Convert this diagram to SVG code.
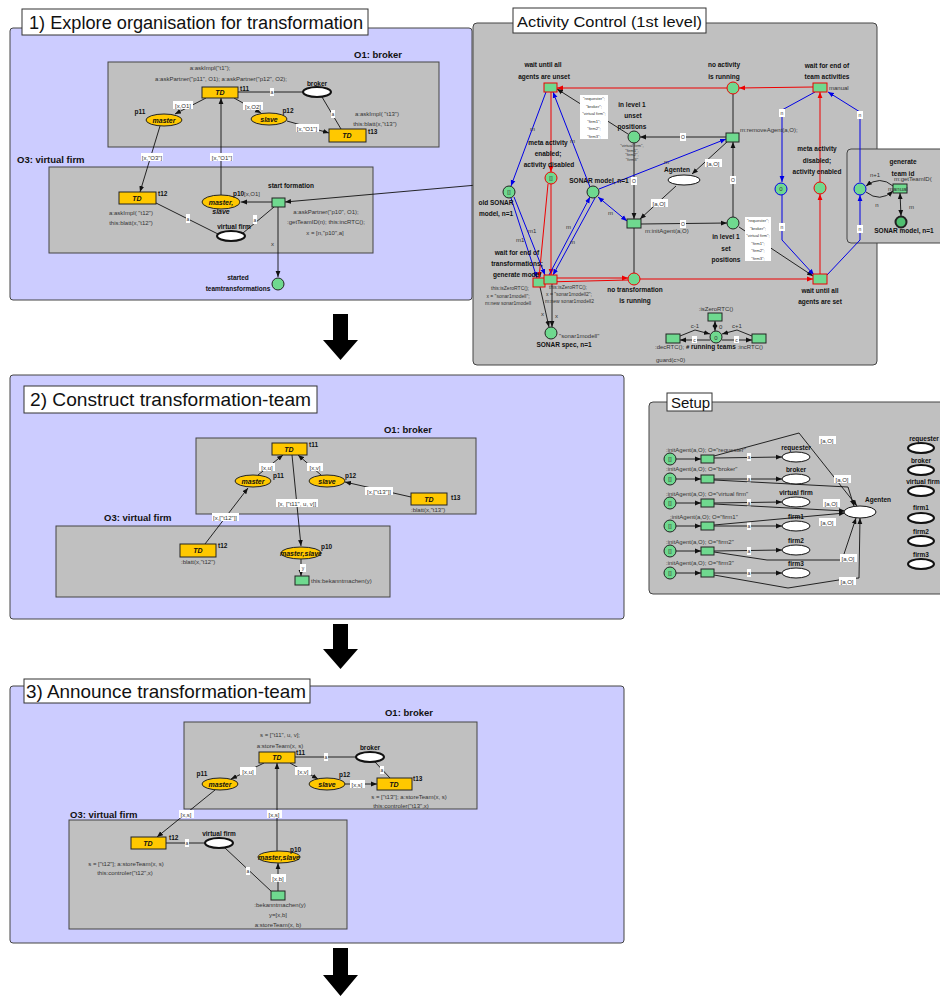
<svg xmlns="http://www.w3.org/2000/svg" width="940" height="996" viewBox="0 0 940 996">
<defs>
<marker id="k" markerUnits="userSpaceOnUse" markerWidth="6" markerHeight="6" viewBox="0 0 10 10" refX="10" refY="5" orient="auto-start-reverse"><path d="M0,1L10,5L0,9z" fill="#111"/></marker>
<marker id="rm" markerUnits="userSpaceOnUse" markerWidth="6" markerHeight="6" viewBox="0 0 10 10" refX="10" refY="5" orient="auto-start-reverse"><path d="M0,1L10,5L0,9z" fill="#e00"/></marker>
<marker id="bm" markerUnits="userSpaceOnUse" markerWidth="6" markerHeight="6" viewBox="0 0 10 10" refX="10" refY="5" orient="auto-start-reverse"><path d="M0,1L10,5L0,9z" fill="#0000e6"/></marker>
</defs>
<style>
text{font-family:"Liberation Sans",Arial,sans-serif;fill:#111}
.pan{fill:#ccf;stroke:#444;stroke-width:1}
.box{fill:#c0c0c0;stroke:#444;stroke-width:1}
.ttl{fill:#fff;stroke:#333;stroke-width:1}
.lb{font-size:6.5px;font-weight:bold}
.org{font-size:9.5px;font-weight:bold}
.in{font-size:6px;fill:#333}
.sm{font-size:5px;fill:#333}
.tiny{font-size:4.2px;fill:#333}
.c{text-anchor:middle}
.tb{fill:#fff}
.yel{fill:#ffc800;stroke:#222;stroke-width:1}
.grn{fill:#6fd98f;stroke:#222;stroke-width:1}
.wpl{fill:#fff;stroke:#111;stroke-width:2}
.td{font-size:7px;font-weight:bold;font-style:italic;text-anchor:middle}
.a{stroke:#111;fill:none;stroke-width:0.9}
.r{stroke:#e00;fill:none;stroke-width:1}
.b{stroke:#0000e6;fill:none;stroke-width:1}
.ak{marker-end:url(#k)}
.ar{marker-end:url(#rm)}
.ab{marker-end:url(#bm)}
</style>

<!-- ===== Panel 1: explore organisation ===== -->
<g id="panel1">
<rect class="pan" x="10" y="28" width="462" height="272" rx="3"/>
<rect class="ttl" x="22" y="9" width="346" height="26"/>
<text x="29" y="29" font-size="18" textLength="334" lengthAdjust="spacingAndGlyphs">1) Explore organisation for transformation</text>
</g>
<g id="p1-o1">
<rect class="box" x="108" y="62" width="331" height="85"/>
<text class="org" x="354" y="58">O1: broker</text>
<text class="in c" x="210" y="70">a:askImpl("t1");</text>
<text class="in c" x="221" y="81">a:askPartner("p11", O1); a:askPartner("p12", O2);</text>
<text class="in c" x="377" y="116">a:askImpl( "t13")</text>
<text class="in c" x="375" y="126">this:blatt(x,"t13")</text>
</g>
<g id="p1-o3">
<rect class="box" x="49" y="167" width="324" height="86"/>
<text class="org" x="17" y="163">O3: virtual firm</text>
<text class="in c" x="131" y="215">a:askImpl( "t12")</text>
<text class="in c" x="131" y="225">this:blatt(x,"t12")</text>
<text class="in c" x="326" y="214">a:askPartner("p10", O1);</text>
<text class="in c" x="326" y="224">:getTeamID(n); this:incRTC();</text>
<text class="in c" x="325" y="235">x = [n,"p10",a]</text>
</g>
<g id="p1-arcs">
<line class="a ak" x1="206" y1="98" x2="175" y2="114"/>
<rect class="tb" x="173" y="101" width="20" height="8"/><text class="in c" x="183" y="107.5">[x,O1]</text>
<line class="a ak" x1="234" y1="98" x2="261" y2="113"/>
<rect class="tb" x="243" y="102" width="20" height="8"/><text class="in c" x="253" y="108.5">[x,O2]</text>
<line class="a" x1="238" y1="92" x2="303" y2="92"/>
<rect class="tb" x="270" y="88" width="4" height="8"/><text class="sm c" x="272" y="94">a</text>
<line class="a" x1="322" y1="97" x2="341" y2="129"/>
<rect class="tb" x="331" y="110" width="4" height="8"/><text class="sm c" x="333" y="116">a</text>
<line class="a ak" x1="287" y1="121" x2="329" y2="133"/>
<rect class="tb" x="296" y="124" width="23" height="8"/><text class="in c" x="307" y="130.5">[x,"O1"]</text>
<line class="a ak" x1="160" y1="126" x2="140" y2="192"/>
<rect class="tb" x="141" y="153" width="22" height="8"/><text class="in c" x="152" y="159.5">[x,"O3"]</text>
<line class="a ak" x1="221" y1="195" x2="221" y2="98"/>
<rect class="tb" x="210" y="153" width="23" height="8"/><text class="in c" x="222" y="159.5">[x,"O1"]</text>
<line class="a" x1="156" y1="203" x2="218" y2="234"/>
<rect class="tb" x="186" y="214" width="4" height="9"/><text class="sm c" x="188" y="221">a</text>
<line class="a ak" x1="272" y1="202" x2="241" y2="202"/>
<line class="a" x1="274" y1="207" x2="243" y2="233"/>
<rect class="tb" x="253" y="215" width="4" height="9"/><text class="sm c" x="255" y="222">a</text>
<line class="a ak" x1="278" y1="207" x2="278" y2="277"/>
<text class="in" x="271" y="246">x</text>
<line class="a" x1="285" y1="202" x2="545" y2="179" marker-start="url(#k)" marker-end="url(#k)"/>
</g>
<g id="p1-t11"><rect class="yel" x="202" y="87" width="36" height="11"/><text class="td" x="220" y="95">TD</text><text class="lb" x="240" y="91">t11</text></g>
<g id="p1-p11"><ellipse class="yel" cx="164" cy="120" rx="18" ry="6"/><text class="td" x="164" y="122.5">master</text><text class="lb c" x="140" y="114">p11</text></g>
<g id="p1-broker"><ellipse class="wpl" cx="317" cy="92" rx="14" ry="5"/><text class="lb c" x="317" y="86">broker</text></g>
<g id="p1-p12"><ellipse class="yel" cx="269" cy="119" rx="18" ry="6"/><text class="td" x="269" y="121.5">slave</text><text class="lb c" x="288" y="113">p12</text></g>
<g id="p1-t13"><rect class="yel" x="329" y="129" width="37" height="13"/><text class="td" x="347" y="138">TD</text><text class="lb" x="368" y="134">t13</text></g>
<g id="p1-t12"><rect class="yel" x="119" y="192" width="37" height="12"/><text class="td" x="137" y="200.5">TD</text><text class="lb" x="158" y="196">t12</text></g>
<g id="p1-p10"><ellipse class="yel" cx="221" cy="202" rx="19" ry="7"/><text class="td" x="221" y="204.5">master,</text><text class="td" x="221" y="214">slave</text><text class="lb" x="233" y="196">p10</text><text class="in" x="244" y="196">[x,O1]</text></g>
<g id="p1-vfirm"><ellipse class="wpl" cx="231" cy="236" rx="14" ry="5"/><text class="lb c" x="234" y="229">virtual firm</text></g>
<g id="p1-start"><rect class="grn" x="272" y="198" width="13" height="9"/><text class="lb c" x="291" y="188">start formation</text></g>
<g id="p1-started"><circle class="grn" cx="278" cy="284" r="6"/><text class="lb c" x="238" y="280">started</text><text class="lb c" x="238" y="291">teamtransformations</text></g>

<!-- ===== Activity control ===== -->
<g id="activity">
<rect class="box" x="473" y="23" width="404" height="342" rx="4"/>
<rect class="ttl" x="513" y="8" width="193" height="25"/>
<text x="517" y="27" font-size="15.5" textLength="185" lengthAdjust="spacingAndGlyphs">Activity Control (1st level)</text>
</g>
<g id="teamid-box">
<rect class="box" x="847" y="149" width="100" height="94" rx="4"/>
</g>
<g id="ac-arcs">
<!-- red control flow -->
<line class="r ar" x1="727" y1="88" x2="557" y2="88"/>
<line class="r ar" x1="813" y1="87" x2="739" y2="88"/>
<line class="r ar" x1="551" y1="92" x2="551" y2="172"/>
<line class="r ar" x1="551" y1="184" x2="551" y2="275"/>
<line class="r ar" x1="548" y1="184" x2="539" y2="278"/>
<line class="r" x1="545" y1="282" x2="628" y2="280"/>
<line class="r ar" x1="557" y1="278" x2="628" y2="278"/>
<line class="r ar" x1="640" y1="279" x2="813" y2="279"/>
<line class="r ar" x1="820" y1="274" x2="820" y2="194"/>
<line class="r ar" x1="820" y1="182" x2="820" y2="92"/>
<!-- black -->
<line class="a" x1="733" y1="94" x2="733" y2="133"/>
<line class="a" x1="634" y1="273" x2="634" y2="228"/>
<line class="a ak" x1="726" y1="137" x2="640" y2="137"/>
<rect class="tb" x="680" y="133" width="6" height="8"/><text class="sm c" x="683" y="139">O</text>
<line class="a ak" x1="634" y1="143" x2="634" y2="219"/>
<rect class="tb" x="631" y="177" width="6" height="8"/><text class="sm c" x="634" y="183">O</text>
<line class="a ak" x1="641" y1="224" x2="727" y2="223"/>
<rect class="tb" x="680" y="220" width="6" height="8"/><text class="sm c" x="683" y="226">O</text>
<line class="a ak" x1="733" y1="217" x2="733" y2="142"/>
<rect class="tb" x="730" y="176" width="6" height="8"/><text class="sm c" x="733" y="182">O</text>
<line class="a ak" x1="728" y1="141" x2="692" y2="174"/>
<rect class="tb" x="705" y="159" width="17" height="8"/><text class="in c" x="713" y="165.5">[a,O]</text>
<line class="a ak" x1="676" y1="186" x2="640" y2="219"/>
<rect class="tb" x="651" y="199" width="17" height="8"/><text class="in c" x="659" y="205.5">[a,O]</text>
<line class="a ak" x1="628" y1="134" x2="557" y2="89"/>
<line class="a ak" x1="739" y1="227" x2="813" y2="276"/>
<line class="a ak" x1="540" y1="287" x2="549" y2="327"/>
<line class="a ak" x1="552" y1="284" x2="552" y2="327"/>
<text class="in" x="541" y="316">x</text>
<text class="in" x="555" y="318">x</text>
<line class="a" x1="900" y1="193" x2="901" y2="216" marker-start="url(#k)" marker-end="url(#k)"/>
<text class="in" x="909" y="209">m</text>
<path class="a ak" d="M893,186 Q880,175 866,186"/>
<path class="a ak" d="M866,192 Q880,203 893,191"/>
<text class="in c" x="875" y="177">n+1</text>
<text class="in c" x="877" y="207">n</text>
<!-- blue model flow -->
<line class="b ab" x1="546" y1="92" x2="511" y2="186"/>
<text class="in" x="530" y="131">m</text>
<line class="b ab" x1="590" y1="187" x2="553" y2="92"/>
<text class="in" x="570" y="143">m</text>
<line class="b ab" x1="599" y1="189" x2="726" y2="139"/>
<text class="in" x="664" y="164">m</text>
<line class="b" x1="598" y1="197" x2="627" y2="221" marker-start="url(#bm)" marker-end="url(#bm)"/>
<text class="in" x="608" y="215">m</text>
<line class="b ab" x1="511" y1="198" x2="537" y2="278"/>
<line class="b ab" x1="514" y1="197" x2="545" y2="275"/>
<text class="in" x="528" y="233">m1</text>
<text class="in" x="516" y="242">m1</text>
<line class="b ab" x1="549" y1="275" x2="590" y2="197"/>
<line class="b ab" x1="595" y1="198" x2="553" y2="275"/>
<text class="in" x="566" y="229">m</text>
<text class="in" x="570" y="244">m</text>
<polyline class="b ab" points="815,92 782,110 782,182"/>
<rect class="tb" x="779" y="109" width="6" height="8"/><text class="sm c" x="782" y="115">n</text>
<polyline class="b ab" points="782,195 782,240 814,275"/>
<rect class="tb" x="779" y="223" width="6" height="8"/><text class="sm c" x="782" y="229">n</text>
<polyline class="b ab" points="827,275 860,240 860,195"/>
<rect class="tb" x="857" y="225" width="6" height="8"/><text class="sm c" x="860" y="231">n</text>
<polyline class="b ab" points="860,182 860,112 828,92"/>
<rect class="tb" x="857" y="111" width="6" height="8"/><text class="sm c" x="860" y="117">n</text>
<!-- running-team counter -->
<line class="a" x1="715" y1="321" x2="715" y2="331" marker-start="url(#k)" marker-end="url(#k)"/>
<text class="in" x="719" y="329">0</text>
<polyline class="a ak" points="680,336 695,330 710,334"/>
<polyline class="a ak" points="710,340 695,340 680,340"/>
<polyline class="a ak" points="752,336 737,330 722,334"/>
<polyline class="a ak" points="722,340 737,340 752,340"/>
<text class="in c" x="695" y="328">c-1</text>
<text class="in c" x="737" y="328">c+1</text>
<rect class="tb" x="692" y="336" width="5" height="7"/><text class="sm c" x="694.5" y="341.5">c</text>
<rect class="tb" x="734" y="336" width="5" height="7"/><text class="sm c" x="736.5" y="341.5">c</text>
</g>
<!-- token inscriptions -->
<g id="ac-tokens">
<rect class="tb" x="580" y="95" width="28" height="44"/>
<text class="tiny c" x="594" y="100">"requester";</text>
<text class="tiny c" x="594" y="107.5">"broker";</text>
<text class="tiny c" x="594" y="115">"virtual firm";</text>
<text class="tiny c" x="594" y="122.5">"firm1";</text>
<text class="tiny c" x="594" y="130">"firm2";</text>
<text class="tiny c" x="594" y="137.5">"firm3";</text>
<rect class="tb" x="745" y="217" width="26" height="44"/>
<text class="tiny c" x="758" y="222">"requester";</text>
<text class="tiny c" x="758" y="229.5">"broker";</text>
<text class="tiny c" x="758" y="237">"virtual firm";</text>
<text class="tiny c" x="758" y="244.5">"firm1";</text>
<text class="tiny c" x="758" y="252">"firm2";</text>
<text class="tiny c" x="758" y="259.5">"firm3";</text>
</g>
<g id="ac-wait-unset"><rect class="grn" x="544" y="83" width="13" height="9" style="stroke:#e00"/><text class="lb c" x="543" y="67">wait until all</text><text class="lb c" x="544" y="79">agents are unset</text></g>
<g id="ac-no-activity"><circle class="grn" cx="733" cy="88" r="6" style="stroke:#e00"/><text class="lb c" x="724" y="67">no activity</text><text class="lb c" x="724" y="79">is running</text></g>
<g id="ac-wait-team"><rect class="grn" x="813" y="83" width="14" height="9" style="stroke:#e00"/><text class="lb c" x="827" y="68">wait for end of</text><text class="lb c" x="827" y="79">team activities</text><text class="in" x="829" y="90">manual</text></g>
<g id="ac-meta-enabled"><circle class="grn" cx="551" cy="178" r="6" style="stroke:#e00"/><text class="in c" x="551" y="180">[]</text><text class="lb c" x="548" y="145">meta activity</text><text class="lb c" x="548" y="156">enabled;</text><text class="lb c" x="549" y="167">activity disabled</text></g>
<g id="ac-meta-disabled"><circle class="grn" cx="820" cy="188" r="6" style="stroke:#e00"/><text class="lb c" x="817" y="151">meta activity</text><text class="lb c" x="817" y="163">disabled;</text><text class="lb c" x="817" y="174">activity enabled</text></g>
<g id="ac-count-left"><circle class="grn" cx="781" cy="189" r="6" style="stroke:#0000e6"/><text class="in c" x="781" y="191">0</text></g>
<g id="ac-count-right"><circle class="grn" cx="860" cy="189" r="6" style="stroke:#0000e6"/></g>
<g id="ac-gen-id"><rect class="grn" x="893" y="184" width="14" height="9"/><text class="lb c" x="903" y="164">generate</text><text class="lb c" x="903" y="176">team id</text><text class="in" x="894" y="181">m:getTeamID(</text><text class="in" x="888" y="191">manual</text></g>
<g id="ac-sonar-right"><circle class="grn" cx="901" cy="222" r="5.5" style="stroke-width:2;fill:#4fbf70"/><text class="lb c" x="904" y="233">SONAR model, n=1</text></g>
<g id="ac-old-sonar"><circle class="grn" cx="509" cy="192" r="6"/><text class="in c" x="509" y="194">[]</text><text class="lb c" x="496" y="205">old SONAR</text><text class="lb c" x="496" y="216">model, n=1</text></g>
<g id="ac-sonar"><circle class="grn" cx="593" cy="192" r="6"/><text class="lb c" x="599" y="183">SONAR model, n=1</text></g>
<g id="ac-agenten"><ellipse class="wpl" cx="684" cy="180" rx="16" ry="5" style="stroke-width:1"/><text class="lb c" x="677" y="172">Agenten</text></g>
<g id="ac-unset"><circle class="grn" cx="634" cy="137" r="6"/><text class="lb c" x="632" y="107">in level 1</text><text class="lb c" x="633" y="118">unset</text><text class="lb c" x="632" y="129">positions</text>
<text class="tiny c" x="632" y="147">"virtual firm",</text><text class="tiny c" x="632" y="151.5">"firm1",</text><text class="tiny c" x="632" y="156">"firm2",</text><text class="tiny c" x="632" y="160.5">"firm3"</text></g>
<g id="ac-remove"><rect class="grn" x="726" y="133" width="13" height="9"/><text class="in" x="740" y="132">m:removeAgent(a,O);</text></g>
<g id="ac-set"><circle class="grn" cx="733" cy="223" r="6"/><text class="lb c" x="726" y="239">in level 1</text><text class="lb c" x="726" y="251">set</text><text class="lb c" x="726" y="262">positions</text></g>
<g id="ac-init"><rect class="grn" x="627" y="219" width="14" height="9"/><text class="in" x="645" y="233">m:initAgent(a,O)</text></g>
<g id="ac-no-trans"><circle class="grn" cx="634" cy="279" r="6" style="stroke:#e00"/><text class="lb c" x="635" y="292">no transformation</text><text class="lb c" x="635" y="303">is running</text></g>
<g id="ac-wait-set"><rect class="grn" x="813" y="274" width="14" height="10" style="stroke:#e00"/><text class="lb c" x="820" y="293">wait until all</text><text class="lb c" x="820" y="304">agents are set</text></g>
<g id="ac-generate"><rect class="grn" x="533" y="278" width="12" height="9" style="stroke:#e00"/><rect class="grn" x="544" y="275" width="13" height="9" style="stroke:#e00"/>
<text class="lb c" x="517" y="255">wait for end of</text><text class="lb c" x="517" y="266">transformations;</text><text class="lb c" x="517" y="277">generate model</text>
<text class="sm c" x="510" y="290">this:isZeroRTC();</text><text class="sm c" x="508" y="298">x = "sonar1modell";</text><text class="sm c" x="508" y="305">m:new sonar1modell</text>
<text class="sm" x="549" y="289">this:isZeroRTC();</text><text class="sm" x="546" y="296">x = "sonar1modell2";</text><text class="sm" x="545" y="303">m:new sonar1modell2</text></g>
<g id="ac-spec"><circle class="grn" cx="551" cy="333" r="6"/><text class="in" x="559" y="338">"sonar1modell"</text><text class="lb c" x="564" y="347">SONAR spec, n=1</text></g>
<g id="ac-zero"><rect class="grn" x="708" y="313" width="14" height="8"/><text class="in c" x="716" y="311">:isZeroRTC()</text></g>
<g id="ac-running"><circle class="grn" cx="716" cy="337" r="6"/><text class="in c" x="716" y="339.5">0</text>
<text class="in" x="655" y="349">:decRTC(); <tspan font-weight="bold" fill="#111">#</tspan><tspan font-weight="bold" fill="#111" font-size="6.5"> running teams</tspan> :incRTC()</text>
<text class="in" x="656" y="362">guard(c&gt;0)</text></g>
<g id="ac-dec"><rect class="grn" x="666" y="334" width="14" height="9"/></g>
<g id="ac-inc"><rect class="grn" x="752" y="334" width="14" height="9"/></g>

<!-- ===== Setup ===== -->
<g id="setup">
<rect class="box" x="649" y="402" width="300" height="192" rx="4"/>
<rect class="ttl" x="667" y="393" width="45" height="18"/>
<text x="671" y="408" font-size="15">Setup</text>
</g>
<g id="setup-arcs">
<line class="a ak" x1="676" y1="459" x2="701" y2="459"/>
<line class="a ak" x1="676" y1="479" x2="701" y2="479"/>
<line class="a ak" x1="676" y1="503" x2="701" y2="503"/>
<line class="a ak" x1="676" y1="526" x2="701" y2="526"/>
<line class="a ak" x1="676" y1="551" x2="701" y2="551"/>
<line class="a ak" x1="676" y1="573" x2="701" y2="573"/>
<line class="a ak" x1="714" y1="458" x2="782" y2="457"/>
<line class="a ak" x1="714" y1="479" x2="782" y2="479"/>
<line class="a ak" x1="714" y1="503" x2="782" y2="502"/>
<line class="a ak" x1="714" y1="526" x2="782" y2="526"/>
<line class="a ak" x1="714" y1="551" x2="782" y2="550"/>
<line class="a ak" x1="714" y1="573" x2="782" y2="573"/>
<rect class="tb" x="747" y="453" width="4" height="8"/><text class="sm c" x="749" y="459">a</text>
<rect class="tb" x="747" y="475" width="4" height="8"/><text class="sm c" x="749" y="481">a</text>
<rect class="tb" x="747" y="499" width="4" height="8"/><text class="sm c" x="749" y="505">a</text>
<rect class="tb" x="747" y="522" width="4" height="8"/><text class="sm c" x="749" y="528">a</text>
<rect class="tb" x="747" y="547" width="4" height="8"/><text class="sm c" x="749" y="553">a</text>
<rect class="tb" x="747" y="569" width="4" height="8"/><text class="sm c" x="749" y="575">a</text>
<polyline class="a ak" points="714,456 799,433 857,506"/>
<polyline class="a ak" points="714,480 848,487 854,506"/>
<polyline class="a ak" points="714,504 845,511"/>
<polyline class="a ak" points="714,525 845,513"/>
<polyline class="a ak" points="714,552 767,560 842,560 856,518"/>
<polyline class="a ak" points="714,575 788,588 845,579 859,578 860,518"/>
<rect class="tb" x="819" y="436" width="17" height="8"/><text class="in c" x="827" y="442.5">[a,O]</text>
<rect class="tb" x="834" y="475" width="17" height="8"/><text class="in c" x="842" y="481.5">[a,O]</text>
<rect class="tb" x="823" y="499" width="17" height="8"/><text class="in c" x="831" y="505.5">[a,O]</text>
<rect class="tb" x="819" y="518" width="17" height="8"/><text class="in c" x="827" y="524.5">[a,O]</text>
<rect class="tb" x="840" y="554" width="17" height="8"/><text class="in c" x="848" y="560.5">[a,O]</text>
<rect class="tb" x="839" y="577" width="17" height="8"/><text class="in c" x="847" y="583.5">[a,O]</text>
</g>
<g id="setup-rows">
<circle class="grn" cx="670" cy="459" r="6"/><text class="in c" x="670" y="461">[]</text><rect class="grn" x="701" y="455" width="13" height="8"/>
<circle class="grn" cx="670" cy="479" r="6"/><text class="in c" x="670" y="481">[]</text><rect class="grn" x="701" y="475" width="13" height="8"/>
<circle class="grn" cx="670" cy="503" r="6"/><text class="in c" x="670" y="505">[]</text><rect class="grn" x="701" y="499" width="13" height="8"/>
<circle class="grn" cx="670" cy="526" r="6"/><text class="in c" x="670" y="528">[]</text><rect class="grn" x="701" y="522" width="13" height="8"/>
<circle class="grn" cx="670" cy="551" r="6"/><text class="in c" x="670" y="553">[]</text><rect class="grn" x="701" y="547" width="13" height="8"/>
<circle class="grn" cx="670" cy="573" r="6"/><text class="in c" x="670" y="575">[]</text><rect class="grn" x="701" y="569" width="13" height="8"/>
<text class="in" x="666" y="452">:initAgent(a,O); O="requester"</text>
<text class="in" x="666" y="471">:initAgent(a,O); O="broker"</text>
<text class="in" x="666" y="496">:initAgent(a,O); O="virtual firm"</text>
<text class="in" x="670" y="519">:initAgent(a,O); O="firm1"</text>
<text class="in" x="666" y="544">:initAgent(a,O); O="firm2"</text>
<text class="in" x="666" y="565">:initAgent(a,O); O="firm3"</text>
</g>
<g id="setup-places">
<ellipse class="wpl" cx="796" cy="457" rx="14" ry="5" style="stroke-width:1"/><text class="lb c" x="796" y="450">requester</text>
<ellipse class="wpl" cx="796" cy="479" rx="14" ry="5" style="stroke-width:1"/><text class="lb c" x="796" y="472">broker</text>
<ellipse class="wpl" cx="796" cy="502" rx="14" ry="5" style="stroke-width:1"/><text class="lb c" x="796" y="495">virtual firm</text>
<ellipse class="wpl" cx="796" cy="526" rx="14" ry="5" style="stroke-width:1"/><text class="lb c" x="796" y="519">firm1</text>
<ellipse class="wpl" cx="796" cy="550" rx="14" ry="5" style="stroke-width:1"/><text class="lb c" x="796" y="543">firm2</text>
<ellipse class="wpl" cx="796" cy="573" rx="14" ry="5" style="stroke-width:1"/><text class="lb c" x="796" y="566">firm3</text>
<ellipse class="wpl" cx="860" cy="512" rx="16" ry="6" style="stroke-width:1"/><text class="lb c" x="878" y="502">Agenten</text>
</g>
<g id="setup-right">
<ellipse class="wpl" cx="921" cy="448" rx="13" ry="5"/><text class="lb c" x="924" y="441">requester</text>
<ellipse class="wpl" cx="921" cy="470" rx="13" ry="5"/><text class="lb c" x="921" y="463">broker</text>
<ellipse class="wpl" cx="921" cy="491" rx="13" ry="5"/><text class="lb c" x="923" y="484">virtual firm</text>
<ellipse class="wpl" cx="921" cy="518" rx="13" ry="5"/><text class="lb c" x="921" y="510">firm1</text>
<ellipse class="wpl" cx="921" cy="541" rx="13" ry="5"/><text class="lb c" x="921" y="534">firm2</text>
<ellipse class="wpl" cx="921" cy="564" rx="13" ry="5"/><text class="lb c" x="921" y="557">firm3</text>
</g>

<!-- ===== Panel 2: construct team ===== -->
<g id="panel2">
<rect class="pan" x="10" y="375" width="614" height="244" rx="3"/>
<rect class="ttl" x="24" y="386" width="293" height="27"/>
<text x="30" y="406" font-size="19" textLength="281" lengthAdjust="spacingAndGlyphs">2)  Construct transformation-team</text>
<rect class="box" x="196" y="438" width="280" height="76"/>
<text class="org c" x="408" y="433">O1: broker</text>
<rect class="box" x="56" y="526" width="334" height="71"/>
<text class="org" x="104" y="521">O3: virtual firm</text>
</g>
<g id="p2-arcs">
<line class="a ak" x1="258" y1="475" x2="283" y2="455"/>
<rect class="tb" x="259" y="463" width="16" height="8"/><text class="in c" x="267" y="469.5">[x,u]</text>
<line class="a ak" x1="321" y1="475" x2="298" y2="455"/>
<rect class="tb" x="307" y="463" width="16" height="8"/><text class="in c" x="315" y="469.5">[x,v]</text>
<line class="a ak" x1="411" y1="497" x2="345" y2="482"/>
<rect class="tb" x="365" y="487" width="28" height="8"/><text class="in c" x="379" y="493.5">[x,["t13"]]</text>
<line class="a ak" x1="205" y1="544" x2="248" y2="488"/>
<rect class="tb" x="212" y="513" width="27" height="8"/><text class="in c" x="225" y="519.5">[x,["t12"]]</text>
<line class="a ak" x1="292" y1="455" x2="301" y2="546"/>
<rect class="tb" x="276" y="499" width="42" height="8"/><text class="in c" x="297" y="505.5">[x, ["t11", u, v]]</text>
<line class="a ak" x1="301" y1="559" x2="301" y2="576"/>
<rect class="tb" x="300" y="564" width="6" height="8"/><text class="sm c" x="303" y="570">y</text>
</g>
<g id="p2-t11"><rect class="yel" x="272" y="443" width="35" height="12"/><text class="td" x="289" y="451.5">TD</text><text class="lb" x="309" y="447">t11</text></g>
<g id="p2-p11"><ellipse class="yel" cx="253" cy="481" rx="18" ry="6"/><text class="td" x="253" y="483.5">master</text><text class="lb" x="273" y="478">p11</text></g>
<g id="p2-p12"><ellipse class="yel" cx="327" cy="481" rx="18" ry="6"/><text class="td" x="327" y="483.5">slave</text><text class="lb" x="345" y="478">p12</text></g>
<g id="p2-t13"><rect class="yel" x="411" y="493" width="36" height="12"/><text class="td" x="429" y="501.5">TD</text><text class="lb" x="451" y="500">t13</text><text class="in" x="411" y="512">:blatt(x,"t13")</text></g>
<g id="p2-t12"><rect class="yel" x="180" y="544" width="36" height="13"/><text class="td" x="198" y="553">TD</text><text class="lb" x="218" y="548">t12</text><text class="in" x="181" y="564">:blatt(x,"t12")</text></g>
<g id="p2-p10"><ellipse class="yel" cx="301" cy="553" rx="20" ry="6"/><text class="td" x="301" y="555.5" font-size="6.5">master,slave</text><text class="lb" x="321" y="549">p10</text></g>
<g id="p2-announce"><rect class="grn" x="295" y="576" width="14" height="9"/><text class="in" x="311" y="583">this:bekanntmachen(y)</text></g>

<!-- ===== Panel 3: announce team ===== -->
<g id="panel3">
<rect class="pan" x="10" y="686" width="614" height="257" rx="3"/>
<rect class="ttl" x="24" y="679" width="286" height="24"/>
<text x="26" y="698" font-size="19" textLength="280" lengthAdjust="spacingAndGlyphs">3) Announce transformation-team</text>
<rect class="box" x="184" y="722" width="293" height="87"/>
<text class="org c" x="409" y="716">O1: broker</text>
<rect class="box" x="69" y="820" width="278" height="109"/>
<text class="org" x="70" y="818">O3: virtual firm</text>
<text class="in c" x="280" y="737">s =  ["t11", u, v];</text>
<text class="in c" x="280" y="748">a:storeTeam(x, s)</text>
<text class="in c" x="409" y="799">s = ["t13"]; a:storeTeam(x, s)</text>
<text class="in c" x="401" y="808">this:controler("t13",x)</text>
<text class="in c" x="126" y="866">s = ["t12"]; a:storeTeam(x, s)</text>
<text class="in c" x="125" y="875">this:controler("t12",x)</text>
<text class="in c" x="280" y="907">:bekanntmachen(y)</text>
<text class="in c" x="278" y="917">y=[x,b]</text>
<text class="in c" x="278" y="927">a:storeTeam(x, b)</text>
</g>
<g id="p3-arcs">
<line class="a" x1="295" y1="757" x2="356" y2="757"/>
<rect class="tb" x="324" y="753" width="4" height="8"/><text class="sm c" x="326" y="759">a</text>
<line class="a ak" x1="264" y1="763" x2="231" y2="779"/>
<rect class="tb" x="240" y="767" width="16" height="8"/><text class="in c" x="248" y="773.5">[x,u]</text>
<line class="a ak" x1="290" y1="763" x2="318" y2="779"/>
<rect class="tb" x="295" y="767" width="16" height="8"/><text class="in c" x="303" y="773.5">[x,v]</text>
<line class="a ak" x1="345" y1="784" x2="377" y2="784"/>
<rect class="tb" x="350" y="780" width="15" height="8"/><text class="in c" x="357" y="786.5">[x,s]</text>
<line class="a" x1="375" y1="762" x2="390" y2="778"/>
<rect class="tb" x="380" y="766" width="4" height="8"/><text class="sm c" x="382" y="772">a</text>
<line class="a ak" x1="215" y1="790" x2="157" y2="837"/>
<rect class="tb" x="179" y="810" width="15" height="8"/><text class="in c" x="186" y="816.5">[x,s]</text>
<line class="a" x1="166" y1="843" x2="205" y2="843"/>
<rect class="tb" x="185" y="839" width="4" height="8"/><text class="sm c" x="187" y="845">a</text>
<line class="a ak" x1="277" y1="851" x2="277" y2="763"/>
<rect class="tb" x="267" y="810" width="15" height="8"/><text class="in c" x="274" y="816.5">[x,s]</text>
<line class="a ak" x1="278" y1="891" x2="278" y2="863"/>
<rect class="tb" x="271" y="874" width="15" height="8"/><text class="in c" x="278" y="880.5">[x,b]</text>
<line class="a" x1="225" y1="848" x2="272" y2="892"/>
<rect class="tb" x="246" y="867" width="4" height="8"/><text class="sm c" x="248" y="873">a</text>
</g>
<g id="p3-t11"><rect class="yel" x="259" y="752" width="36" height="11"/><text class="td" x="277" y="760">TD</text><text class="lb" x="296" y="755">t11</text></g>
<g id="p3-broker"><ellipse class="wpl" cx="370" cy="757" rx="14" ry="5"/><text class="lb c" x="370" y="750">broker</text></g>
<g id="p3-p11"><ellipse class="yel" cx="220" cy="784" rx="18" ry="6"/><text class="td" x="220" y="786.5">master</text><text class="lb c" x="202" y="776">p11</text></g>
<g id="p3-p12"><ellipse class="yel" cx="327" cy="784" rx="18" ry="6"/><text class="td" x="327" y="786.5">slave</text><text class="lb" x="339" y="777">p12</text></g>
<g id="p3-t13"><rect class="yel" x="377" y="778" width="35" height="12"/><text class="td" x="394" y="786.5">TD</text><text class="lb" x="413" y="781">t13</text></g>
<g id="p3-t12"><rect class="yel" x="131" y="837" width="35" height="12"/><text class="td" x="148" y="845.5">TD</text><text class="lb" x="169" y="840">t12</text></g>
<g id="p3-vfirm"><ellipse class="wpl" cx="219" cy="843" rx="14" ry="5"/><text class="lb c" x="219" y="836">virtual firm</text></g>
<g id="p3-p10"><ellipse class="yel" cx="279" cy="857" rx="21" ry="6"/><text class="td" x="279" y="859.5" font-size="6.5">master,slave</text><text class="lb" x="290" y="852">p10</text></g>
<g id="p3-announce"><rect class="grn" x="271" y="891" width="14" height="9"/></g>

<!-- ===== step arrows ===== -->
<g id="steps" fill="#000">
<path d="M333,314h15v26h10l-17.5,20l-17.5,-20h10z"/>
<path d="M333,624h15v25h10l-17.5,20l-17.5,-20h10z"/>
<path d="M333,948h15v27h10l-17.5,21l-17.5,-21h10z"/>
</g>
</svg>
